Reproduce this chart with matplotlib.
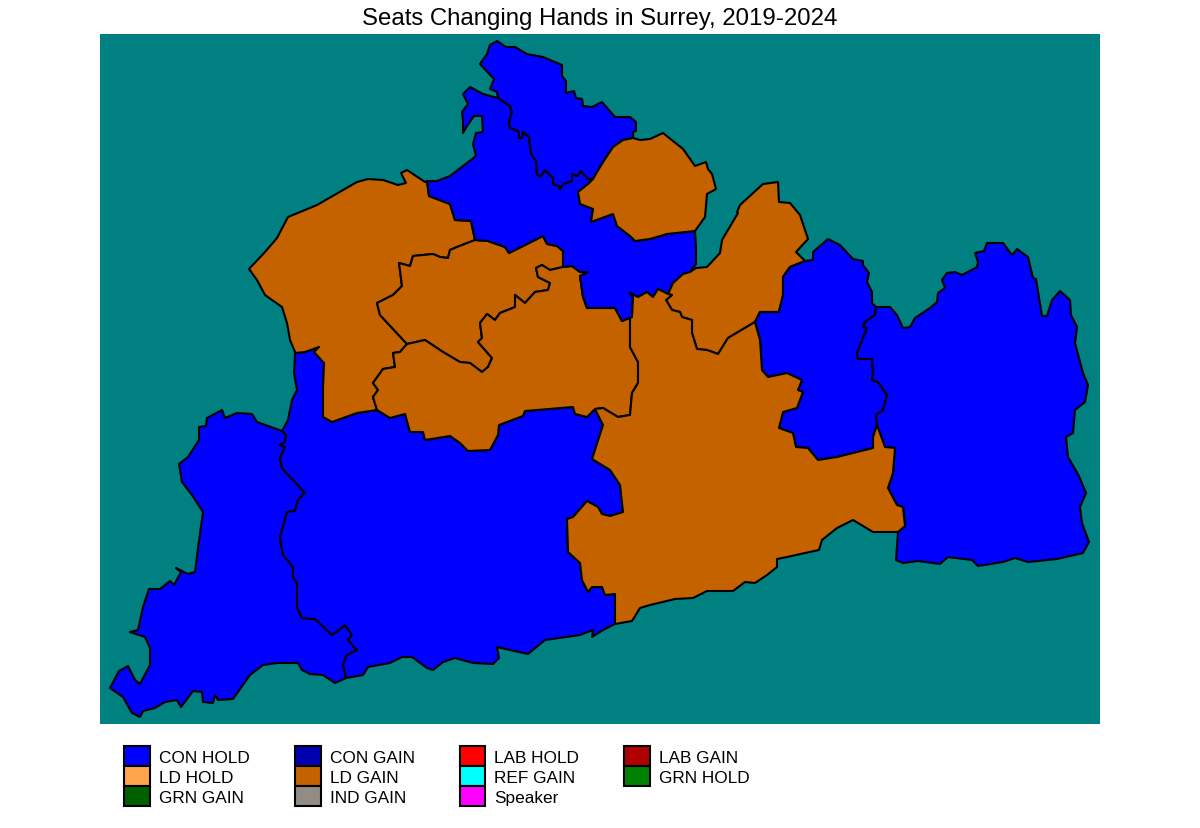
import matplotlib
matplotlib.use("Agg")
import matplotlib.pyplot as plt
from matplotlib.patches import Polygon, Patch

plt.rcParams['font.family'] = ['Liberation Sans', 'DejaVu Sans']

# Shared boundaries (map units)
b_spel_runny = [(498,98),(497,92),(490,89),(494,79),(480,64)]
b_spel_top = [(480,64),(487,54),(490,45),(497,41),(506,47),(515,47),(527,54),(543,57),(562,65),(562,76),(566,81),(566,93),(574,91),(576,98),(582,99),(583,106),(592,107),(602,102),(608,109),(615,117),(630,117),(636,122),(636,131),(633,132),(633,138)]
b_spel_esher = [(633,138),(623,140),(613,147),(605,159),(597,172),(593,179)]
b_spel_river = [(593,179),(588,179),(581,171),(577,176),(572,174),(572,181),(563,184),(560,189),(559,186),(553,184),(553,178),(545,170),(540,177),(537,174),(536,161),(531,154),(529,137),(523,132),(522,138),(519,138),(519,133),(518,131),(510,128),(509,122),(512,112),(510,106),(498,98)]
b_runny_esher = [(593,179),(588,184),(578,192),(580,204),(593,209),(591,222),(613,214),(617,226),(630,236),(635,241),(650,239),(667,234),(695,231)]
b_esher_out = [(633,138),(640,140),(650,139),(663,133),(673,141),(683,149),(695,166),(706,162),(708,169),(712,174),(716,189),(707,194),(705,217),(695,231)]
b_runny_out_e = [(695,231),(696,247),(696,264),(690,272)]
b_runny_epsom = [(690,272),(683,274),(673,283),(668,294)]
b_runny_dork = [(668,294),(658,289),(653,297),(647,292),(638,297),(630,293),(633,297),(632,317)]
b_runny_guild_a = [(632,317),(622,321),(615,308),(587,308),(583,297),(580,276),(588,272),(580,272),(572,266),(563,267)]
b_runny_wok = [(563,267),(563,251),(557,246),(547,244),(543,236),(509,253),(505,247),(488,241),(475,240)]
b_runny_heath = [(475,240),(471,221),(455,220),(450,204),(429,196),(427,181)]
b_runny_out_w = [(427,181),(437,181),(450,176),(463,166),(476,156),(473,144),(476,133),(483,132),(482,116),(474,116),(467,126),(463,133),(463,122),(462,112),(468,104),(463,94),(470,87),(483,94),(498,98)]
b_heath_out = [(427,181),(425,182),(407,170),(401,173),(406,183),(398,185),(383,180),(368,179),(357,182),(317,205),(288,217),(277,238),(265,252),(249,269),(257,280),(265,295),(282,307),(287,323),(290,340),(295,352)]
b_heath_wok = [(475,240),(457,247),(450,250),(448,258),(440,257),(433,254),(413,256),(410,266),(399,263),(402,286),(393,295),(377,303),(380,315),(407,344)]
b_heath_guild = [(407,344),(400,352),(393,353),(395,367),(383,369),(373,383),(378,390),(373,397),(377,410)]
b_heath_god = [(377,410),(357,413),(332,422),(323,417),(323,387),(324,363),(314,352),(319,347),(305,352),(295,353)]
b_wok_guild = [(563,267),(550,270),(542,265),(536,268),(538,277),(550,283),(548,290),(535,292),(525,303),(515,295),(515,307),(500,313),(495,320),(487,314),(480,323),(482,338),(478,342),(492,358),(488,367),(482,372),(470,363),(460,362),(443,352),(425,340),(407,344)]
b_guild_dork = [(632,317),(630,318),(630,347),(638,362),(638,383),(632,393),(630,415),(618,417),(603,408),(595,409)]
b_guild_god = [(595,409),(587,417),(575,414),(573,407),(525,411),(523,416),(499,425),(498,435),(490,450),(468,451),(460,443),(450,436),(425,440),(423,432),(410,432),(405,414),(390,418),(377,410)]
b_god_dork = [(595,409),(603,425),(592,459),(610,470),(620,485),(623,512),(610,516),(602,514),(598,507),(587,501),(573,517),(567,519),(568,552),(580,563),(582,580),(588,592),(592,587),(602,587),(605,595),(615,594),(615,624)]
b_dork_south = [(615,624),(632,621),(640,608),(650,605),(675,599),(693,598),(707,591),(733,591),(745,582),(755,583),(767,575),(777,567),(777,559),(787,557),(805,553),(819,550),(822,540),(837,528),(853,520),(873,532),(898,532),(905,526)]
b_dork_east = [(905,526),(903,507),(897,505),(888,488),(893,473),(895,448),(885,447),(877,425)]
b_dork_reig = [(877,425),(873,437),(873,448),(837,457),(818,460),(808,448),(796,447),(793,433),(779,428),(783,412),(797,408),(803,392),(798,390),(802,380),(787,373),(768,377),(762,370),(760,340),(755,322)]
b_dork_epsom = [(755,322),(728,338),(718,354),(707,350),(697,349),(692,333),(692,320),(682,317),(680,312),(672,310),(666,300),(672,295),(668,294)]
b_epsom_out = [(690,272),(696,268),(707,267),(720,253),(722,240),(738,213),(737,212),(740,205),(763,184),(778,182),(779,202),(790,203),(800,215),(808,239),(796,252),(805,261)]
b_epsom_reig = [(805,261),(790,267),(783,277),(783,295),(779,312),(760,312),(755,322)]
b_reig_out = [(805,261),(813,260),(813,252),(828,239),(840,245),(853,259),(863,261),(863,265),(869,273),(867,282),(872,292),(872,303),(876,307)]
b_reig_east = [(876,307),(875,315),(865,322),(863,327),(867,328),(857,353),(858,359),(872,359),(873,373),(872,380),(878,382),(887,395),(883,410),(876,415),(877,425)]
b_east_out = [(876,307),(890,307),(897,315),(903,328),(910,327),(915,318),(930,308),(937,302),(938,293),(945,288),(942,280),(947,273),(955,272),(962,275),(977,267),(978,262),(975,253),(984,251),(987,243),(1003,243),(1012,255),(1017,249),(1028,257),(1033,278),(1036,279),(1042,316),(1047,316),(1052,300),(1060,291),(1070,300),(1071,315),(1077,327),(1075,343),(1083,373),(1088,385),(1085,402),(1075,410),(1073,433),(1066,437),(1068,457),(1079,476),(1086,493),(1080,507),(1082,523),(1089,542),(1083,553),(1057,559),(1028,562),(1015,558),(1003,562),(978,566),(972,560),(948,557),(940,564),(918,561),(903,563),(896,560),(898,532),(905,526)]
b_far_out_n = [(282,431),(257,422),(252,414),(237,413),(225,418),(222,410),(207,418),(206,426),(199,427),(199,440),(188,457),(179,464),(182,482),(192,495),(203,512),(198,548),(195,572),(188,574),(176,568),(181,572),(174,585),(170,581),(160,589),(149,589),(143,607),(138,630),(130,632),(145,637),(150,648),(150,665),(140,684),(135,680),(128,666),(119,671),(110,688),(123,697),(132,713),(140,717),(143,711),(155,708),(165,702),(177,700),(181,707),(193,691),(202,692),(203,702),(213,703),(215,695),(218,700),(233,699),(250,675),(263,665),(278,663),(298,663),(302,670),(310,674),(323,675),(335,683),(346,678)]
b_far_god = [(282,431),(286,435),(285,442),(280,445),(285,447),(280,458),(282,468),(305,493),(298,500),(295,511),(287,512),(280,537),(283,555),(293,567),(293,577),(297,583),(297,607),(302,618),(315,619),(332,635),(345,625),(352,635),(348,640),(357,650),(347,655),(343,665),(346,678)]
b_god_south = [(346,678),(363,675),(368,667),(390,663),(402,657),(412,657),(427,668),(433,670),(443,662),(455,658),(473,663),(493,664),(499,658),(497,647),(510,650),(528,654),(545,640),(580,635),(593,630),(592,637),(603,630),(615,624)]
b_god_out_w = [(295,353),(294,373),(297,390),(292,400),(288,420),(282,431)]


def chain(*parts):
    """Join boundaries into one closed ring of vertices."""
    pts = []
    for p in parts:
        pts.extend(p)
    return pts


def rev(p):
    return p[::-1]


spelthorne = chain(b_spel_top, b_spel_esher, b_spel_river, b_spel_runny)
runnymede = chain(rev(b_spel_river), b_runny_esher, b_runny_out_e, b_runny_epsom, b_runny_dork,
                  b_runny_guild_a, b_runny_wok, b_runny_heath, b_runny_out_w)
esher = chain(b_esher_out, rev(b_runny_esher), rev(b_spel_esher))
surrey_heath = chain(rev(b_heath_out), rev(b_runny_heath), b_heath_wok, b_heath_guild, b_heath_god)
woking = chain(rev(b_runny_wok), b_wok_guild, rev(b_heath_wok))
guildford = chain(rev(b_wok_guild), rev(b_runny_guild_a), b_guild_dork, b_guild_god, rev(b_heath_guild))
farnham = chain(b_far_out_n, rev(b_far_god))
godalming = chain(rev(b_god_out_w), rev(b_heath_god), rev(b_guild_god), b_god_dork, rev(b_god_south), rev(b_far_god))
dorking = chain(rev(b_runny_dork), rev(b_dork_epsom), rev(b_dork_reig), rev(b_dork_east), rev(b_dork_south),
                rev(b_god_dork), rev(b_guild_dork))
epsom = chain(b_runny_epsom[::-1], b_epsom_out, b_epsom_reig, b_dork_epsom)
reigate = chain(b_reig_out, b_reig_east, b_dork_reig, rev(b_epsom_reig))
east_surrey = chain(b_east_out, b_dork_east, rev(b_reig_east))

seats = [farnham, godalming, surrey_heath, woking, guildford, runnymede, spelthorne, esher,
         epsom, reigate, east_surrey, dorking]
results = ["CON HOLD", "CON HOLD", "LD GAIN", "LD GAIN", "LD GAIN", "CON HOLD", "CON HOLD", "LD GAIN",
           "LD GAIN", "CON HOLD", "CON HOLD", "LD GAIN"]

legend_labels = ["CON HOLD", "LD HOLD", "GRN GAIN",
                 "CON GAIN", "LD GAIN", "IND GAIN",
                 "LAB HOLD", "REF GAIN", "Speaker",
                 "LAB GAIN", "GRN HOLD"]
legend_colors = ["#0000FF", "#FFA64D", "#006000",
                 "#0000B0", "#C46200", "#918D85",
                 "#FF0000", "#00FFFF", "#FF00FF",
                 "#B00000", "#008000"]
palette = dict(zip(legend_labels, legend_colors))

title = "Seats Changing Hands in Surrey, 2019-2024"
W, H = 1200, 829
fig = plt.figure(figsize=(W/100, H/100), dpi=100, facecolor="white")
ax = fig.add_axes([100/W, 1-725/H, 1000/W, 690/H])
ax.set_facecolor("#008080")
ax.set_xlim(100, 1100)
ax.set_ylim(724, 34)
ax.set_xticks([]); ax.set_yticks([])
for s in ax.spines.values():
    s.set_visible(False)

for pts, res in zip(seats, results):
    ax.add_patch(Polygon(pts, closed=True, facecolor=palette[res], edgecolor="black",
                         linewidth=1.5, joinstyle="round"))

fig.text(600/W, 1-18.5/H, title, ha="center", va="center", fontsize=17.3)

handles = [Patch(facecolor=c, edgecolor="black", linewidth=1.5) for c in legend_colors]
fig.legend(handles, legend_labels, ncol=4, frameon=False, loc="upper left",
           bbox_to_anchor=(124/W, 1-747/H), borderaxespad=0, borderpad=0,
           fontsize=12.45, handlelength=1.5, handleheight=1.4, handletextpad=0.52,
           labelspacing=0, columnspacing=2.6)
fig.savefig("out.png", dpi=100)
